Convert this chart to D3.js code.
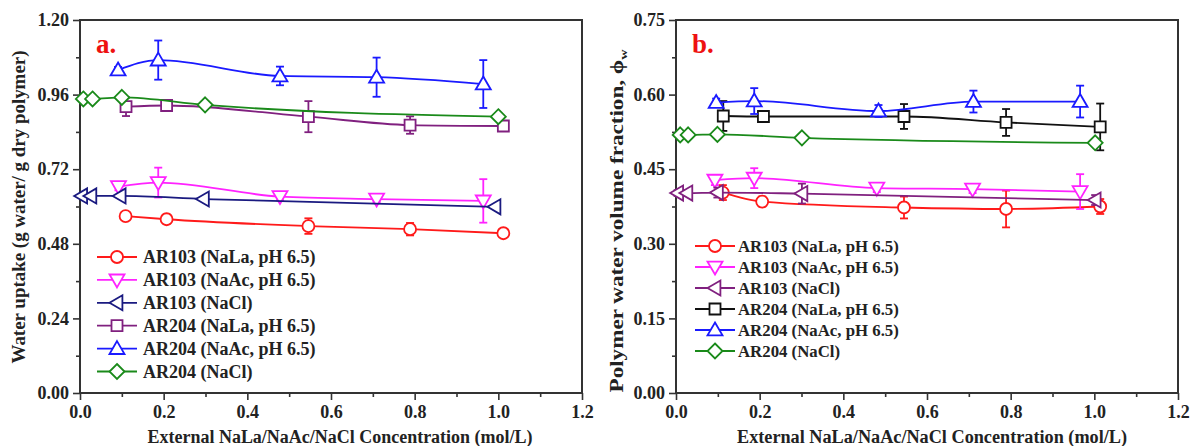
<!DOCTYPE html>
<html>
<head>
<meta charset="utf-8">
<script src="https://cdn.jsdelivr.net/npm/d3@7"></script>
<style>
  body { margin: 0; background: #fff; }
  svg { display: block; }
  svg text { font-family: "Liberation Serif", "Times New Roman", "DejaVu Serif", serif; font-weight: bold; }
</style>
</head>
<body>
<svg id="chart" width="1190" height="446"></svg>
<script>
// legend names shared by both panels
var seriesNames = [
  'AR103 (NaLa, pH 6.5)', 'AR103 (NaAc, pH 6.5)', 'AR103 (NaCl)',
  'AR204 (NaLa, pH 6.5)', 'AR204 (NaAc, pH 6.5)', 'AR204 (NaCl)'
];
var xTicks = [0, 0.2, 0.4, 0.6, 0.8, 1.0, 1.2];
var aYTicks = [0, 0.24, 0.48, 0.72, 0.96, 1.20];
var bYTicks = [0, 0.15, 0.30, 0.45, 0.60, 0.75];

// panel a: water uptake (g water / g dry polymer)
var aNaLa103X = [0.109, 0.207, 0.546, 0.789, 1.012];
var aNaLa103Y = [0.569, 0.559, 0.537, 0.527, 0.514];
var aNaLa103E = [0.008, 0.015, 0.025, 0.020, 0.012];
var aNaAc103X = [0.092, 0.187, 0.478, 0.709, 0.964];
var aNaAc103Y = [0.664, 0.677, 0.632, 0.624, 0.618];
var aNaAc103E = [0.012, 0.048, 0.012, 0.010, 0.070];
var aNaCl103X = [0.004, 0.026, 0.096, 0.295, 0.992];
var aNaCl103Y = [0.634, 0.634, 0.634, 0.624, 0.599];
var aNaCl103E = [0, 0, 0, 0, 0];
var aNaLa204X = [0.110, 0.207, 0.546, 0.789, 1.012];
var aNaLa204Y = [0.921, 0.925, 0.889, 0.862, 0.859];
var aNaLa204E = [0.030, 0.006, 0.050, 0.028, 0.010];
var aNaAc204X = [0.091, 0.187, 0.478, 0.709, 0.964];
var aNaAc204Y = [1.039, 1.071, 1.020, 1.016, 0.994];
var aNaAc204E = [0.010, 0.063, 0.030, 0.063, 0.077];
var aNaCl204X = [0.008, 0.030, 0.100, 0.299, 1.000];
var aNaCl204Y = [0.946, 0.946, 0.951, 0.927, 0.889];
var aNaCl204E = [0, 0, 0, 0, 0];

// panel b: polymer water volume fraction
var bNaLa103X = [0.112, 0.206, 0.545, 0.789, 1.014];
var bNaLa103Y = [0.403, 0.385, 0.373, 0.370, 0.375];
var bNaLa103E = [0.015, 0.010, 0.022, 0.037, 0.015];
var bNaAc103X = [0.093, 0.187, 0.480, 0.709, 0.966];
var bNaAc103Y = [0.428, 0.432, 0.412, 0.410, 0.405];
var bNaAc103E = [0.010, 0.020, 0.008, 0.008, 0.035];
var bNaCl103X = [0.004, 0.026, 0.099, 0.301, 1.002];
var bNaCl103Y = [0.402, 0.402, 0.403, 0.401, 0.388];
var bNaCl103E = [0.006, 0.006, 0.010, 0.020, 0.010];
var bNaLa204X = [0.113, 0.209, 0.545, 0.789, 1.014];
var bNaLa204Y = [0.557, 0.556, 0.556, 0.544, 0.535];
var bNaLa204E = [0.030, 0.010, 0.025, 0.027, 0.047];
var bNaAc204X = [0.096, 0.187, 0.484, 0.711, 0.966];
var bNaAc204Y = [0.584, 0.587, 0.567, 0.586, 0.586];
var bNaAc204E = [0.008, 0.026, 0.012, 0.022, 0.032];
var bNaCl204X = [0.010, 0.029, 0.099, 0.301, 1.002];
var bNaCl204Y = [0.519, 0.519, 0.520, 0.513, 0.503];
var bNaCl204E = [0.006, 0.006, 0.006, 0.006, 0.006];

var AXIS = '#333';

function zipSeries(xs, ys, es) {
  return xs.map(function (x, i) { return {x: x, y: ys[i], e: es[i]}; });
}

/**
 * Marker outline centred on 0,0
 */
function markerPath(type) {
  var r = 6, s = 7.5, q = 5.5;
  switch (type) {
    case 'circle':
      return 'M' + (-r) + ',0a' + r + ',' + r + ' 0 1,0 ' + 2 * r + ',0a' + r + ',' + r + ' 0 1,0 ' + (-2 * r) + ',0Z';
    case 'up':
      return 'M0,' + (-s) + 'L' + s + ',' + s * 0.72 + 'L' + (-s) + ',' + s * 0.72 + 'Z';
    case 'down':
      return 'M0,' + s + 'L' + s + ',' + (-s * 0.72) + 'L' + (-s) + ',' + (-s * 0.72) + 'Z';
    case 'left':
      return 'M' + (-s) + ',0L' + s * 0.72 + ',' + (-s) + 'L' + s * 0.72 + ',' + s + 'Z';
    case 'square':
      return 'M' + (-q) + ',' + (-q) + 'h' + 2 * q + 'v' + 2 * q + 'h' + (-2 * q) + 'Z';
    default:
      return 'M0,' + (-s) + 'L' + s + ',0L0,' + s + 'L' + (-s) + ',0Z';
  }
}

var svg = d3.select('#chart');

function drawPanel(cfg) {
  var x, y, g, line, yStep, minorY, minorX;

  x = d3.scaleLinear().domain([0, 1.2]).range([cfg.left, cfg.right]);
  y = d3.scaleLinear().domain([0, cfg.yMax]).range([cfg.bottom, cfg.top]);

  g = svg.append('g').attr('class', 'panel');

  // frame
  g.append('rect')
    .attr('x', cfg.left).attr('y', cfg.top)
    .attr('width', cfg.right - cfg.left).attr('height', cfg.bottom - cfg.top)
    .attr('fill', 'none').attr('stroke', AXIS).attr('stroke-width', 2);

  // minor ticks halfway between majors
  yStep = cfg.yTicks[1] - cfg.yTicks[0];
  minorY = cfg.yTicks.slice(0, -1).map(function (v) { return v + yStep / 2; });
  minorX = xTicks.slice(0, -1).map(function (v) { return v + 0.1; });

  g.append('g')
    .attr('transform', 'translate(' + cfg.left + ',0)')
    .call(d3.axisLeft(y).tickValues(cfg.yTicks).tickFormat(d3.format('.2f'))
      .tickSize(7).tickPadding(4));
  g.append('g')
    .attr('transform', 'translate(' + cfg.left + ',0)')
    .call(d3.axisLeft(y).tickValues(minorY).tickFormat('').tickSize(4));

  g.append('g')
    .attr('transform', 'translate(0,' + cfg.bottom + ')')
    .call(d3.axisBottom(x).tickValues(xTicks).tickFormat(d3.format('.1f'))
      .tickSize(7).tickPadding(5));
  g.append('g')
    .attr('transform', 'translate(0,' + cfg.bottom + ')')
    .call(d3.axisBottom(x).tickValues(minorX).tickFormat('').tickSize(4));

  g.selectAll('.domain').remove();
  g.selectAll('.tick line').attr('stroke', AXIS).attr('stroke-width', 1.6);
  g.selectAll('.tick text')
    .attr('fill', '#222')
    .attr('font-family', null).attr('font-size', null)
    .style('font-size', '18px');

  // axis titles
  g.append('text')
    .attr('x', cfg.xTitleX).attr('y', 443)
    .attr('text-anchor', 'middle')
    .attr('textLength', cfg.xTitleLen).attr('lengthAdjust', 'spacingAndGlyphs')
    .style('font-size', '18px')
    .attr('fill', '#222')
    .text('External NaLa/NaAc/NaCl Concentration (mol/L)');

  var yTitle = g.append('text')
    .attr('transform', 'translate(' + cfg.yTitleX + ',' + cfg.yTitleY + ') rotate(-90)')
    .attr('text-anchor', 'middle')
    .attr('textLength', cfg.yTitleLen).attr('lengthAdjust', 'spacingAndGlyphs')
    .style('font-size', '18px')
    .attr('fill', '#222')
    .text(cfg.yTitle);
  if (cfg.yTitleSub) {
    yTitle.append('tspan').text('\u03D5');
    yTitle.append('tspan')
      .attr('dy', 4).style('font-size', '11px').text(cfg.yTitleSub);
  }

  // panel letter
  g.append('text')
    .attr('x', cfg.left + 16).attr('y', 53)
    .style('font-size', '27px')
    .attr('fill', '#ee1111')
    .text(cfg.letter);

  line = d3.line()
    .x(function (d) { return x(d.x); })
    .y(function (d) { return y(d.y); })
    .curve(d3.curveMonotoneX);

  cfg.series.forEach(function (s) {
    var sg = g.append('g').attr('class', 'series');

    sg.append('path')
      .datum(s.data)
      .attr('d', line)
      .attr('fill', 'none')
      .attr('stroke', s.color)
      .attr('stroke-width', 1.8);

    // error bars
    var eb = sg.selectAll('.err')
      .data(s.data.filter(function (d) { return d.e > 0; }))
      .enter().append('g').attr('class', 'err')
      .attr('stroke', s.color).attr('stroke-width', 1.8);
    eb.append('line')
      .attr('x1', function (d) { return x(d.x); })
      .attr('x2', function (d) { return x(d.x); })
      .attr('y1', function (d) { return y(d.y - d.e); })
      .attr('y2', function (d) { return y(d.y + d.e); });
    [1, -1].forEach(function (sign) {
      eb.append('line')
        .attr('x1', function (d) { return x(d.x) - 4; })
        .attr('x2', function (d) { return x(d.x) + 4; })
        .attr('y1', function (d) { return y(d.y + sign * d.e); })
        .attr('y2', function (d) { return y(d.y + sign * d.e); });
    });

    sg.selectAll('.pt')
      .data(s.data)
      .enter().append('path')
      .attr('class', 'pt')
      .attr('transform', function (d) {
        return 'translate(' + x(d.x) + ',' + y(d.y) + ')';
      })
      .attr('d', markerPath(s.marker))
      .attr('fill', 'white')
      .attr('stroke', s.color)
      .attr('stroke-width', 1.8);
  });

  // legend
  var lg = g.append('g').attr('class', 'legend');
  cfg.series.forEach(function (s, i) {
    var ly = cfg.legendY + i * cfg.legendGap;
    lg.append('line')
      .attr('x1', cfg.legendX).attr('x2', cfg.legendX + 40)
      .attr('y1', ly).attr('y2', ly)
      .attr('stroke', s.color).attr('stroke-width', 1.8);
    lg.append('path')
      .attr('transform', 'translate(' + (cfg.legendX + 20) + ',' + ly + ')')
      .attr('d', markerPath(s.marker))
      .attr('fill', 'white').attr('stroke', s.color).attr('stroke-width', 1.8);
    lg.append('text')
      .attr('x', cfg.legendX + cfg.legendTextGap).attr('y', ly + 6)
      .style('font-size', cfg.legendFont)
      .attr('fill', '#222')
      .text(seriesNames[i]);
  });
}

drawPanel({
  left: 80, right: 582, top: 20, bottom: 393,
  yMax: 1.2, yTicks: aYTicks,
  yTitle: 'Water uptake (g water/ g dry polymer)', yTitleX: 25, yTitleY: 207, yTitleLen: 313,
  xTitleX: 340, xTitleLen: 385,
  letter: 'a.',
  legendX: 97, legendY: 257, legendGap: 22.9, legendTextGap: 46, legendFont: '18px',
  series: [
    {color: '#ff1a1a', marker: 'circle', data: zipSeries(aNaLa103X, aNaLa103Y, aNaLa103E)},
    {color: '#ff22ff', marker: 'down', data: zipSeries(aNaAc103X, aNaAc103Y, aNaAc103E)},
    {color: '#1a1a80', marker: 'left', data: zipSeries(aNaCl103X, aNaCl103Y, aNaCl103E)},
    {color: '#80207f', marker: 'square', data: zipSeries(aNaLa204X, aNaLa204Y, aNaLa204E)},
    {color: '#1a1aff', marker: 'up', data: zipSeries(aNaAc204X, aNaAc204Y, aNaAc204E)},
    {color: '#1a8a1a', marker: 'diamond', data: zipSeries(aNaCl204X, aNaCl204Y, aNaCl204E)}
  ]
});

drawPanel({
  left: 676, right: 1178, top: 20, bottom: 393,
  yMax: 0.75, yTicks: bYTicks,
  yTitle: 'Polymer water volume fraction, ', yTitleSub: 'w', yTitleX: 623, yTitleY: 221, yTitleLen: 343,
  xTitleX: 932, xTitleLen: 390,
  letter: 'b.',
  legendX: 695, legendY: 246, legendGap: 21, legendTextGap: 43, legendFont: '16.8px',
  series: [
    {color: '#ff1a1a', marker: 'circle', data: zipSeries(bNaLa103X, bNaLa103Y, bNaLa103E)},
    {color: '#ff22ff', marker: 'down', data: zipSeries(bNaAc103X, bNaAc103Y, bNaAc103E)},
    {color: '#80207f', marker: 'left', data: zipSeries(bNaCl103X, bNaCl103Y, bNaCl103E)},
    {color: '#111111', marker: 'square', data: zipSeries(bNaLa204X, bNaLa204Y, bNaLa204E)},
    {color: '#1a1aff', marker: 'up', data: zipSeries(bNaAc204X, bNaAc204Y, bNaAc204E)},
    {color: '#1a8a1a', marker: 'diamond', data: zipSeries(bNaCl204X, bNaCl204Y, bNaCl204E)}
  ]
});
</script>
</body>
</html>
